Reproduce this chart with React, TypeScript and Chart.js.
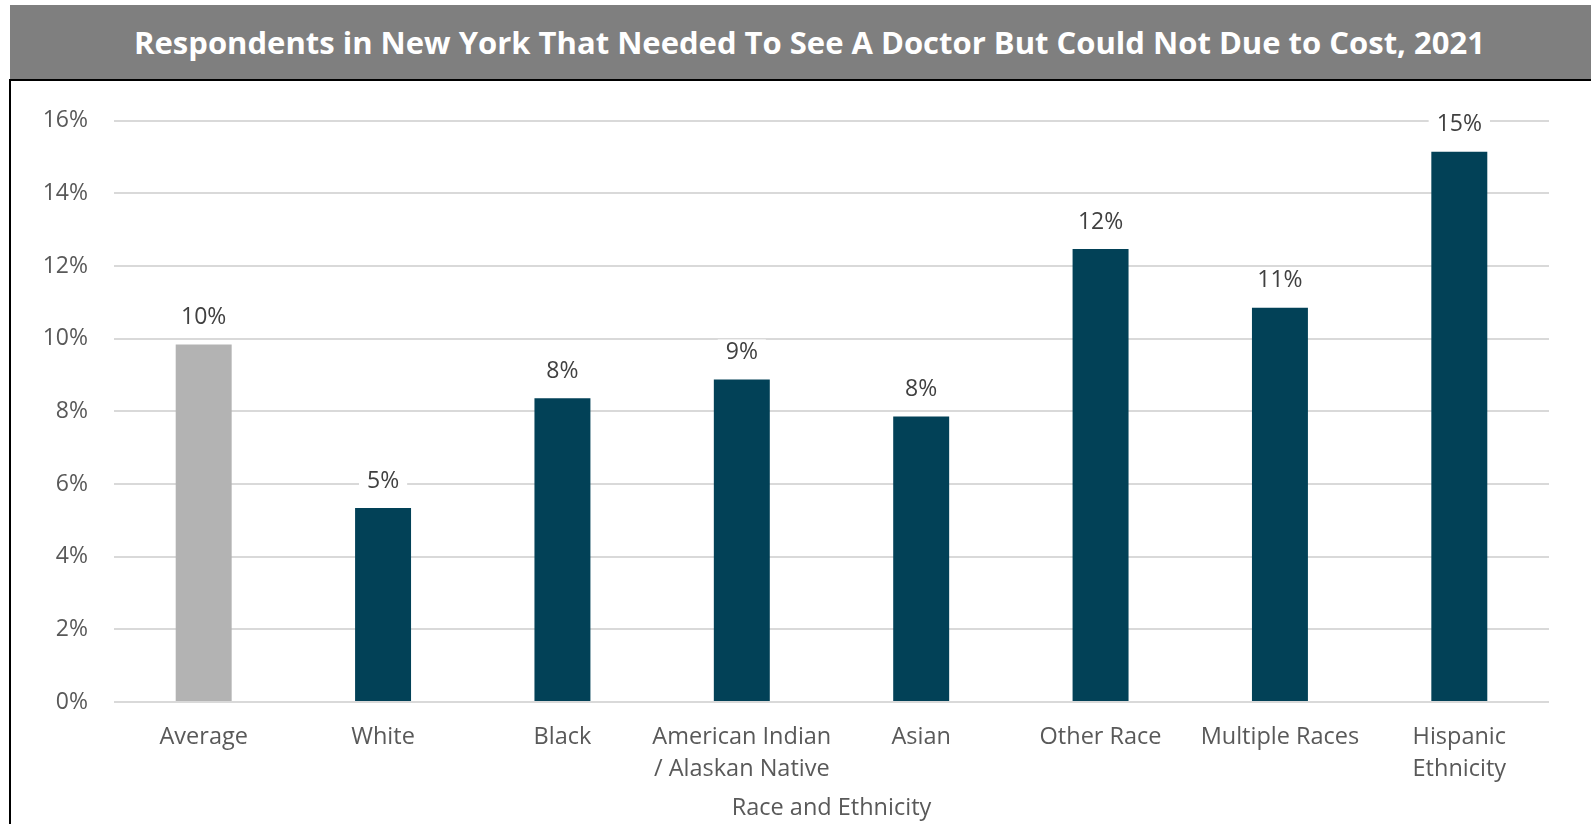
import React, { useEffect, useRef } from "react";
import { Chart, registerables } from "chart.js";

Chart.register(...registerables);

const TITLE = "Respondents in New York That Needed To See A Doctor But Could Not Due to Cost, 2021";
const categories: (string | string[])[] = [
  "Average",
  "White",
  "Black",
  ["American Indian", "/ Alaskan Native"],
  "Asian",
  "Other Race",
  "Multiple Races",
  ["Hispanic", "Ethnicity"],
];
const values = [9.84, 5.34, 8.36, 8.88, 7.86, 12.47, 10.85, 15.15];
const barColors = ["#B3B3B3", "#024157", "#024157", "#024157", "#024157", "#024157", "#024157", "#024157"];
const yTickMax = 16;
const yTickStep = 2;
const xAxisTitle = "Race and Ethnicity";

const FONT = "'Open Sans', Lato, sans-serif";

const labelPlugin = {
  id: "barLabels",
  afterDatasetsDraw(chart: any) {
    const ctx = chart.ctx;
    const meta = chart.getDatasetMeta(0);
    const data = chart.data.datasets[0].data as number[];
    ctx.save();
    ctx.font = `23px ${FONT}`;
    ctx.textAlign = "center";
    ctx.textBaseline = "middle";
    meta.data.forEach((el: any, i: number) => {
      const text = Math.round(data[i]) + "%";
      const w = ctx.measureText(text).width;
      const cx = el.x;
      const cy = el.y - 27;
      ctx.fillStyle = "#FFFFFF";
      ctx.fillRect(cx - w / 2 - 8, cy - 13, w + 16, 26);
      ctx.fillStyle = "#404040";
      ctx.fillText(text, cx, cy);
    });
    ctx.restore();
  },
};

export default function App() {
  const canvasRef = useRef<HTMLCanvasElement | null>(null);

  useEffect(() => {
    if (!canvasRef.current) return;
    const chart = new Chart(canvasRef.current, {
      type: "bar",
      data: {
        labels: categories,
        datasets: [
          {
            data: values,
            backgroundColor: barColors,
            barPercentage: 0.312,
            categoryPercentage: 1,
          },
        ],
      },
      options: {
        animation: false,
        responsive: false,
        maintainAspectRatio: false,
        layout: { padding: { left: 0, right: 42, top: 37, bottom: 0 } },
        plugins: {
          legend: { display: false },
          tooltip: { enabled: false },
          title: { display: false },
        },
        scales: {
          x: {
            grid: { display: false, drawTicks: false },
            border: { display: false },
            ticks: {
              color: "#595959",
              font: { family: FONT, size: 23.5, lineHeight: 1.38 },
              padding: 19,
              maxRotation: 0,
              autoSkip: false,
            },
            title: {
              display: true,
              text: xAxisTitle,
              color: "#595959",
              font: { family: FONT, size: 23.5 },
              padding: { top: 0, bottom: 2 },
            },
            afterFit(scale: any) {
              scale.height = 122;
            },
          },
          y: {
            min: 0,
            max: yTickMax,
            grid: { color: "#D9D9D9", lineWidth: 2, drawTicks: false },
            border: { display: false },
            ticks: {
              stepSize: yTickStep,
              color: "#595959",
              font: { family: FONT, size: 23 },
              padding: 26,
              callback: (v: any) => v + "%",
            },
            afterFit(scale: any) {
              scale.width = 103;
            },
          },
        },
      },
      plugins: [labelPlugin],
    });
    return () => chart.destroy();
  }, []);

  return (
    <div style={{ position: "absolute", left: 0, top: 0, width: 1591, height: 824, background: "#FFFFFF", overflow: "hidden" }}>
      <div
        style={{
          position: "absolute",
          left: 10,
          top: 5,
          width: 1581,
          height: 74,
          boxSizing: "border-box",
          paddingLeft: 18,
          background: "#7F7F7F",
          color: "#FFFFFF",
          fontFamily: FONT,
          fontWeight: 700,
          fontSize: 31,
          display: "flex",
          alignItems: "center",
          justifyContent: "center",
          whiteSpace: "nowrap",
        }}
      >
        {TITLE}
      </div>
      <div
        style={{
          position: "absolute",
          left: 9,
          top: 79,
          width: 1580,
          height: 743,
          borderLeft: "2px solid #000000",
          borderTop: "2px solid #000000",
        }}
      >
        <canvas ref={canvasRef} width={1580} height={743} style={{ display: "block", width: 1580, height: 743 }} />
      </div>
    </div>
  );
}
